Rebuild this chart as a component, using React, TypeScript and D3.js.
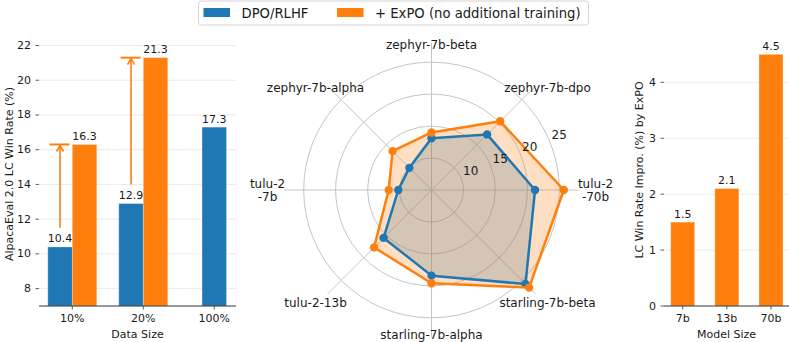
import React from "react";
import * as d3 from "d3";

// ---------- data ----------
const dataSizes = ["10%", "20%", "100%"];
const dpoByDataSize = [10.4, 12.9, 17.3];
const expoByDataSize: (number | null)[] = [16.3, 21.3, null];
const leftTicks = [8, 10, 12, 14, 16, 18, 20, 22];

const radarModels = [
  "tulu-2\n-70b",
  "zephyr-7b-dpo",
  "zephyr-7b-beta",
  "zephyr-7b-alpha",
  "tulu-2\n-7b",
  "tulu-2-13b",
  "starling-7b-alpha",
  "starling-7b-beta",
];
const radarDpo = [21.2, 17.3, 13.1, 9.9, 10.2, 15.6, 18.4, 25.8];
const radarExpo = [25.7, 20.2, 14.0, 13.6, 11.7, 17.7, 19.6, 26.6];
const radarTicks = [10, 15, 20, 25];

const modelSizes = ["7b", "13b", "70b"];
const improvements = [1.5, 2.1, 4.5];
const rightTicks = [0, 1, 2, 3, 4];

const legendLabels = ["DPO/RLHF", "+ ExPO (no additional training)"];

// ---------- styles ----------
const BLUE = "#1f77b4";
const ORANGE = "#ff7f0e";
const FONT = "DejaVu Sans, sans-serif";
const TXT = "#1a1a1a";

export default function App() {
  const W = 789;
  const H = 342;

  // ---- left panel ----
  const L = { left: 39, right: 236, bottom: 306 };
  const yL = d3.scaleLinear().domain([7, 22]).range([306, 45.5]);
  const xL = d3.scaleLinear().domain([-0.469, 2.306]).range([L.left, L.right]);
  const bw = 0.345;
  const bwPx = xL(bw) - xL(0);

  // ---- right panel ----
  const R = { left: 664, right: 789, bottom: 306 };
  const yR = d3.scaleLinear().domain([0, 4]).range([306, 82.3]);
  const xR = d3
    .scalePoint<string>()
    .domain(modelSizes)
    .range([682.7, 771]);
  const rbw = 24;

  // ---- radar ----
  const cx = 431.5;
  const cy = 190;
  const rS = d3.scaleLinear().domain([5, 28]).range([0, 147]);
  const n = radarModels.length;
  const theta = (i: number) => (i * 2 * Math.PI) / n;
  const radial = d3
    .lineRadial<number>()
    .angle((_d, i) => Math.PI / 2 - theta(i))
    .radius((d) => rS(d))
    .curve(d3.curveLinearClosed);
  const pt = (v: number, i: number) => [
    cx + rS(v) * Math.cos(theta(i)),
    cy - rS(v) * Math.sin(theta(i)),
  ];
  const rlabAng = (22.5 * Math.PI) / 180;

  return (
    <svg
      width={W}
      height={H}
      style={{ position: "absolute", left: 0, top: 0, background: "#fff" }}
      fontFamily={FONT}
    >
      {/* ================= LEFT PANEL ================= */}
      <g>
        {leftTicks.map((t) => (
          <g key={t}>
            <line x1={L.left} x2={L.right} y1={yL(t)} y2={yL(t)} stroke="#ebebeb" strokeWidth={1} />
            <line x1={L.left - 3.5} x2={L.left} y1={yL(t)} y2={yL(t)} stroke="#333" strokeWidth={0.8} />
            <text x={L.left - 8} y={yL(t)} textAnchor="end" dominantBaseline="central" fontSize={11} fill={TXT}>
              {t}
            </text>
          </g>
        ))}
        {dataSizes.map((c, i) => {
          const hasExpo = expoByDataSize[i] != null;
          const bx = hasExpo ? xL(i - bw / 2) : xL(i);
          const ox = xL(i + bw / 2);
          const dv = dpoByDataSize[i];
          const ev = expoByDataSize[i];
          return (
            <g key={c}>
              <rect
                x={bx - bwPx / 2}
                y={yL(dv)}
                width={bwPx}
                height={L.bottom - yL(dv)}
                fill={BLUE}
                stroke="#ffffff"
                strokeOpacity={0.35}
                strokeWidth={0.8}
              />
              <text x={bx} y={yL(dv) - 4.5} textAnchor="middle" fontSize={11} fill={TXT}>
                {dv.toFixed(1)}
              </text>
              {ev != null && (
                <g>
                  <rect
                    x={ox - bwPx / 2}
                    y={yL(ev)}
                    width={bwPx}
                    height={L.bottom - yL(ev)}
                    fill={ORANGE}
                    stroke="#ffffff"
                    strokeOpacity={0.35}
                    strokeWidth={0.8}
                  />
                  <text x={ox} y={yL(ev) - 4.5} textAnchor="middle" fontSize={11} fill={TXT}>
                    {ev.toFixed(1)}
                  </text>
                  {/* arrow */}
                  <line x1={bx} x2={bx} y1={yL(dv + 1.1)} y2={yL(ev) + 1} stroke={ORANGE} strokeWidth={1.6} />
                  <path
                    d={`M${bx - 3.5},${yL(ev) + 7} L${bx},${yL(ev) + 1} L${bx + 3.5},${yL(ev) + 7}`}
                    fill="none"
                    stroke={ORANGE}
                    strokeWidth={1.6}
                  />
                  <line x1={bx - 10.5} x2={bx + 9.5} y1={yL(ev)} y2={yL(ev)} stroke={ORANGE} strokeWidth={2} />
                </g>
              )}
              <line x1={xL(i)} x2={xL(i)} y1={L.bottom} y2={L.bottom + 3.5} stroke="#333" strokeWidth={0.8} />
              <text x={xL(i)} y={L.bottom + 16} textAnchor="middle" fontSize={11} fill={TXT}>
                {c}
              </text>
            </g>
          );
        })}
        <line x1={L.left} x2={L.right} y1={L.bottom} y2={L.bottom} stroke="#333" strokeWidth={1} />
        <text x={(L.left + L.right) / 2} y={338} textAnchor="middle" fontSize={11} fill={TXT}>
          Data Size
        </text>
        <text
          transform={`translate(9,174) rotate(-90)`}
          textAnchor="middle"
          dominantBaseline="central"
          fontSize={11}
          fill={TXT}
        >
          AlpacaEval 2.0 LC Win Rate (%)
        </text>
      </g>

      {/* ================= RADAR ================= */}
      <g>
        {radarTicks.map((t) => (
          <circle key={t} cx={cx} cy={cy} r={rS(t)} fill="none" stroke="#c4c4c4" strokeWidth={1} />
        ))}
        {radarModels.map((m, i) => {
          const [x2, y2] = pt(28, i);
          return <line key={m} x1={cx} y1={cy} x2={x2} y2={y2} stroke="#c4c4c4" strokeWidth={1} />;
        })}
        <g transform={`translate(${cx},${cy})`}>
          <path d={radial(radarDpo) || ""} fill={BLUE} fillOpacity={0.25} stroke="none" />
          <path d={radial(radarExpo) || ""} fill={ORANGE} fillOpacity={0.25} stroke="none" />
          <path d={radial(radarDpo) || ""} fill="none" stroke={BLUE} strokeWidth={2.5} strokeLinejoin="round" />
        </g>
        {radarDpo.map((v, i) => {
          const [x, y] = pt(v, i);
          return <circle key={"b" + i} cx={x} cy={y} r={4.2} fill={BLUE} />;
        })}
        <g transform={`translate(${cx},${cy})`}>
          <path d={radial(radarExpo) || ""} fill="none" stroke={ORANGE} strokeWidth={2.5} strokeLinejoin="round" />
        </g>
        {radarExpo.map((v, i) => {
          const [x, y] = pt(v, i);
          return <circle key={"o" + i} cx={x} cy={y} r={4.2} fill={ORANGE} />;
        })}
        {radarTicks.map((t) => (
          <text
            key={"rl" + t}
            x={cx + rS(t) * Math.cos(rlabAng) + 2}
            y={cy - rS(t) * Math.sin(rlabAng) - 2.5}
            fontSize={12}
            fill={TXT}
          >
            {t}
          </text>
        ))}
        {radarModels.map((m, i) => {
          const a = theta(i);
          const c = Math.cos(a);
          const s = Math.sin(a);
          const lx = cx + 164 * c;
          const ly = cy - 145 * s + (s < -0.1 && Math.abs(c) > 0.1 ? 10 : 0);
          const lines = m.split("\n");
          return (
            <text key={"cl" + m} x={lx} y={ly} textAnchor="middle" fontSize={12} fill={TXT}>
              {lines.map((ln, k) => (
                <tspan
                  key={k}
                  x={lx}
                  dy={k === 0 ? `${0.35 - (lines.length - 1) * 0.55}em` : "1.15em"}
                >
                  {ln}
                </tspan>
              ))}
            </text>
          );
        })}
      </g>

      {/* ================= RIGHT PANEL ================= */}
      <g>
        {rightTicks.map((t) => (
          <g key={t}>
            {t > 0 && <line x1={R.left} x2={R.right} y1={yR(t)} y2={yR(t)} stroke="#ebebeb" strokeWidth={1} />}
            <line x1={R.left - 3.5} x2={R.left} y1={yR(t)} y2={yR(t)} stroke="#333" strokeWidth={0.8} />
            <text x={R.left - 8} y={yR(t)} textAnchor="end" dominantBaseline="central" fontSize={11} fill={TXT}>
              {t}
            </text>
          </g>
        ))}
        {modelSizes.map((m, i) => {
          const x = xR(m) as number;
          const v = improvements[i];
          return (
            <g key={m}>
              <rect
                x={x - rbw / 2}
                y={yR(v)}
                width={rbw}
                height={R.bottom - yR(v)}
                fill={ORANGE}
                stroke="#ffffff"
                strokeOpacity={0.35}
                strokeWidth={0.8}
              />
              <text x={x} y={yR(v) - 4.5} textAnchor="middle" fontSize={11} fill={TXT}>
                {v.toFixed(1)}
              </text>
              <line x1={x} x2={x} y1={R.bottom} y2={R.bottom + 3.5} stroke="#333" strokeWidth={0.8} />
              <text x={x} y={R.bottom + 16} textAnchor="middle" fontSize={11} fill={TXT}>
                {m}
              </text>
            </g>
          );
        })}
        <line x1={R.left} x2={R.right} y1={R.bottom} y2={R.bottom} stroke="#333" strokeWidth={1} />
        <text x={(R.left + R.right) / 2} y={338} textAnchor="middle" fontSize={11} fill={TXT}>
          Model Size
        </text>
        <text
          transform={`translate(639.5,170) rotate(-90)`}
          textAnchor="middle"
          dominantBaseline="central"
          fontSize={11}
          fill={TXT}
        >
          LC Win Rate Impro. (%) by ExPO
        </text>
      </g>

      {/* ================= LEGEND ================= */}
      <g>
        <rect x={198.5} y={1} width={390} height={24} rx={3} fill="#fff" stroke="#d4d4d4" strokeWidth={1} />
        <rect x={203.5} y={8} width={26.5} height={9} fill={BLUE} />
        <text x={241.5} y={17.8} fontSize={13.2} fill={TXT}>
          {legendLabels[0]}
        </text>
        <rect x={337} y={8} width={26.5} height={9} fill={ORANGE} />
        <text x={375} y={17.8} fontSize={13.2} fill={TXT}>
          {legendLabels[1]}
        </text>
      </g>
    </svg>
  );
}
